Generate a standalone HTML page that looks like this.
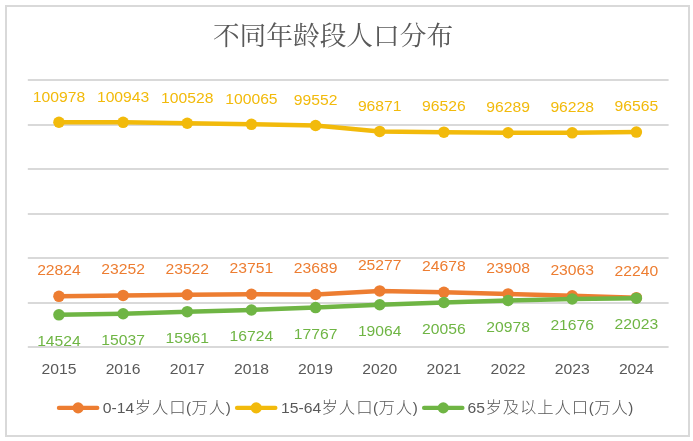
<!DOCTYPE html>
<html lang="zh-CN"><head><meta charset="utf-8"><title>不同年龄段人口分布</title>
<style>html,body{margin:0;padding:0;background:#fff;}body{width:693px;height:441px;overflow:hidden;}svg{display:block;}.n{font-family:"Liberation Sans","Noto Sans CJK SC",sans-serif;}.t{font-family:"Liberation Serif","Noto Serif CJK SC",serif;}</style></head><body>
<svg width="693" height="441" viewBox="0 0 693 441">
<rect x="0" y="0" width="693" height="441" fill="#fff"/>
<rect x="6" y="6" width="683" height="430" fill="#fff" stroke="#D9D9D9" stroke-width="2"/>
<text class="t" x="333" y="44.5" font-size="26.7" font-weight="400" fill="#595959" text-anchor="middle">不同年龄段人口分布</text>
<rect x="27.8" y="79" width="640.80" height="2" fill="#D9D9D9"/>
<rect x="27.8" y="124" width="640.80" height="2" fill="#D9D9D9"/>
<rect x="27.8" y="168" width="640.80" height="2" fill="#D9D9D9"/>
<rect x="27.8" y="213" width="640.80" height="2" fill="#D9D9D9"/>
<rect x="27.8" y="257" width="640.80" height="2" fill="#D9D9D9"/>
<rect x="27.8" y="302" width="640.80" height="2" fill="#D9D9D9"/>
<rect x="27.8" y="346" width="640.80" height="2" fill="#D9D9D9"/>
<polyline points="58.95,296.36 123.11,295.41 187.26,294.80 251.42,294.29 315.58,294.43 379.73,290.90 443.89,292.23 508.05,293.94 572.20,295.83 636.36,297.66" fill="none" stroke="#ED7D31" stroke-width="4.5" stroke-linejoin="round" stroke-linecap="round"/>
<circle cx="58.95" cy="296.36" r="5.75" fill="#ED7D31"/>
<circle cx="123.11" cy="295.41" r="5.75" fill="#ED7D31"/>
<circle cx="187.26" cy="294.80" r="5.75" fill="#ED7D31"/>
<circle cx="251.42" cy="294.29" r="5.75" fill="#ED7D31"/>
<circle cx="315.58" cy="294.43" r="5.75" fill="#ED7D31"/>
<circle cx="379.73" cy="290.90" r="5.75" fill="#ED7D31"/>
<circle cx="443.89" cy="292.23" r="5.75" fill="#ED7D31"/>
<circle cx="508.05" cy="293.94" r="5.75" fill="#ED7D31"/>
<circle cx="572.20" cy="295.83" r="5.75" fill="#ED7D31"/>
<circle cx="636.36" cy="297.66" r="5.75" fill="#ED7D31"/>
<polyline points="58.95,122.27 123.11,122.35 187.26,123.27 251.42,124.31 315.58,125.45 379.73,131.42 443.89,132.19 508.05,132.72 572.20,132.85 636.36,132.10" fill="none" stroke="#F2BA0B" stroke-width="4.5" stroke-linejoin="round" stroke-linecap="round"/>
<circle cx="58.95" cy="122.27" r="5.75" fill="#F2BA0B"/>
<circle cx="123.11" cy="122.35" r="5.75" fill="#F2BA0B"/>
<circle cx="187.26" cy="123.27" r="5.75" fill="#F2BA0B"/>
<circle cx="251.42" cy="124.31" r="5.75" fill="#F2BA0B"/>
<circle cx="315.58" cy="125.45" r="5.75" fill="#F2BA0B"/>
<circle cx="379.73" cy="131.42" r="5.75" fill="#F2BA0B"/>
<circle cx="443.89" cy="132.19" r="5.75" fill="#F2BA0B"/>
<circle cx="508.05" cy="132.72" r="5.75" fill="#F2BA0B"/>
<circle cx="572.20" cy="132.85" r="5.75" fill="#F2BA0B"/>
<circle cx="636.36" cy="132.10" r="5.75" fill="#F2BA0B"/>
<polyline points="58.95,314.85 123.11,313.71 187.26,311.65 251.42,309.95 315.58,307.62 379.73,304.73 443.89,302.53 508.05,300.47 572.20,298.92 636.36,298.14" fill="none" stroke="#6FB544" stroke-width="4.5" stroke-linejoin="round" stroke-linecap="round"/>
<circle cx="58.95" cy="314.85" r="5.75" fill="#6FB544"/>
<circle cx="123.11" cy="313.71" r="5.75" fill="#6FB544"/>
<circle cx="187.26" cy="311.65" r="5.75" fill="#6FB544"/>
<circle cx="251.42" cy="309.95" r="5.75" fill="#6FB544"/>
<circle cx="315.58" cy="307.62" r="5.75" fill="#6FB544"/>
<circle cx="379.73" cy="304.73" r="5.75" fill="#6FB544"/>
<circle cx="443.89" cy="302.53" r="5.75" fill="#6FB544"/>
<circle cx="508.05" cy="300.47" r="5.75" fill="#6FB544"/>
<circle cx="572.20" cy="298.92" r="5.75" fill="#6FB544"/>
<circle cx="636.36" cy="298.14" r="5.75" fill="#6FB544"/>
<text class="n" x="58.95" y="275.06" font-size="15.4" fill="#ED7D31" text-anchor="middle" textLength="43.65" lengthAdjust="spacingAndGlyphs">22824</text>
<text class="n" x="123.11" y="274.11" font-size="15.4" fill="#ED7D31" text-anchor="middle" textLength="43.65" lengthAdjust="spacingAndGlyphs">23252</text>
<text class="n" x="187.26" y="273.50" font-size="15.4" fill="#ED7D31" text-anchor="middle" textLength="43.65" lengthAdjust="spacingAndGlyphs">23522</text>
<text class="n" x="251.42" y="272.99" font-size="15.4" fill="#ED7D31" text-anchor="middle" textLength="43.65" lengthAdjust="spacingAndGlyphs">23751</text>
<text class="n" x="315.58" y="273.13" font-size="15.4" fill="#ED7D31" text-anchor="middle" textLength="43.65" lengthAdjust="spacingAndGlyphs">23689</text>
<text class="n" x="379.73" y="269.60" font-size="15.4" fill="#ED7D31" text-anchor="middle" textLength="43.65" lengthAdjust="spacingAndGlyphs">25277</text>
<text class="n" x="443.89" y="270.93" font-size="15.4" fill="#ED7D31" text-anchor="middle" textLength="43.65" lengthAdjust="spacingAndGlyphs">24678</text>
<text class="n" x="508.05" y="272.64" font-size="15.4" fill="#ED7D31" text-anchor="middle" textLength="43.65" lengthAdjust="spacingAndGlyphs">23908</text>
<text class="n" x="572.20" y="274.53" font-size="15.4" fill="#ED7D31" text-anchor="middle" textLength="43.65" lengthAdjust="spacingAndGlyphs">23063</text>
<text class="n" x="636.36" y="276.36" font-size="15.4" fill="#ED7D31" text-anchor="middle" textLength="43.65" lengthAdjust="spacingAndGlyphs">22240</text>
<text class="n" x="58.95" y="101.57" font-size="15.4" fill="#F2BA0B" text-anchor="middle" textLength="52.38" lengthAdjust="spacingAndGlyphs">100978</text>
<text class="n" x="123.11" y="101.65" font-size="15.4" fill="#F2BA0B" text-anchor="middle" textLength="52.38" lengthAdjust="spacingAndGlyphs">100943</text>
<text class="n" x="187.26" y="102.57" font-size="15.4" fill="#F2BA0B" text-anchor="middle" textLength="52.38" lengthAdjust="spacingAndGlyphs">100528</text>
<text class="n" x="251.42" y="103.61" font-size="15.4" fill="#F2BA0B" text-anchor="middle" textLength="52.38" lengthAdjust="spacingAndGlyphs">100065</text>
<text class="n" x="315.58" y="104.75" font-size="15.4" fill="#F2BA0B" text-anchor="middle" textLength="43.65" lengthAdjust="spacingAndGlyphs">99552</text>
<text class="n" x="379.73" y="110.72" font-size="15.4" fill="#F2BA0B" text-anchor="middle" textLength="43.65" lengthAdjust="spacingAndGlyphs">96871</text>
<text class="n" x="443.89" y="111.49" font-size="15.4" fill="#F2BA0B" text-anchor="middle" textLength="43.65" lengthAdjust="spacingAndGlyphs">96526</text>
<text class="n" x="508.05" y="112.02" font-size="15.4" fill="#F2BA0B" text-anchor="middle" textLength="43.65" lengthAdjust="spacingAndGlyphs">96289</text>
<text class="n" x="572.20" y="112.15" font-size="15.4" fill="#F2BA0B" text-anchor="middle" textLength="43.65" lengthAdjust="spacingAndGlyphs">96228</text>
<text class="n" x="636.36" y="111.40" font-size="15.4" fill="#F2BA0B" text-anchor="middle" textLength="43.65" lengthAdjust="spacingAndGlyphs">96565</text>
<text class="n" x="58.95" y="345.95" font-size="15.4" fill="#6FB544" text-anchor="middle" textLength="43.65" lengthAdjust="spacingAndGlyphs">14524</text>
<text class="n" x="123.11" y="344.81" font-size="15.4" fill="#6FB544" text-anchor="middle" textLength="43.65" lengthAdjust="spacingAndGlyphs">15037</text>
<text class="n" x="187.26" y="342.75" font-size="15.4" fill="#6FB544" text-anchor="middle" textLength="43.65" lengthAdjust="spacingAndGlyphs">15961</text>
<text class="n" x="251.42" y="341.05" font-size="15.4" fill="#6FB544" text-anchor="middle" textLength="43.65" lengthAdjust="spacingAndGlyphs">16724</text>
<text class="n" x="315.58" y="338.72" font-size="15.4" fill="#6FB544" text-anchor="middle" textLength="43.65" lengthAdjust="spacingAndGlyphs">17767</text>
<text class="n" x="379.73" y="335.83" font-size="15.4" fill="#6FB544" text-anchor="middle" textLength="43.65" lengthAdjust="spacingAndGlyphs">19064</text>
<text class="n" x="443.89" y="333.63" font-size="15.4" fill="#6FB544" text-anchor="middle" textLength="43.65" lengthAdjust="spacingAndGlyphs">20056</text>
<text class="n" x="508.05" y="331.57" font-size="15.4" fill="#6FB544" text-anchor="middle" textLength="43.65" lengthAdjust="spacingAndGlyphs">20978</text>
<text class="n" x="572.20" y="330.02" font-size="15.4" fill="#6FB544" text-anchor="middle" textLength="43.65" lengthAdjust="spacingAndGlyphs">21676</text>
<text class="n" x="636.36" y="329.24" font-size="15.4" fill="#6FB544" text-anchor="middle" textLength="43.65" lengthAdjust="spacingAndGlyphs">22023</text>
<text class="n" x="58.95" y="373.6" font-size="15.4" fill="#595959" text-anchor="middle" textLength="34.92" lengthAdjust="spacingAndGlyphs">2015</text>
<text class="n" x="123.11" y="373.6" font-size="15.4" fill="#595959" text-anchor="middle" textLength="34.92" lengthAdjust="spacingAndGlyphs">2016</text>
<text class="n" x="187.26" y="373.6" font-size="15.4" fill="#595959" text-anchor="middle" textLength="34.92" lengthAdjust="spacingAndGlyphs">2017</text>
<text class="n" x="251.42" y="373.6" font-size="15.4" fill="#595959" text-anchor="middle" textLength="34.92" lengthAdjust="spacingAndGlyphs">2018</text>
<text class="n" x="315.58" y="373.6" font-size="15.4" fill="#595959" text-anchor="middle" textLength="34.92" lengthAdjust="spacingAndGlyphs">2019</text>
<text class="n" x="379.73" y="373.6" font-size="15.4" fill="#595959" text-anchor="middle" textLength="34.92" lengthAdjust="spacingAndGlyphs">2020</text>
<text class="n" x="443.89" y="373.6" font-size="15.4" fill="#595959" text-anchor="middle" textLength="34.92" lengthAdjust="spacingAndGlyphs">2021</text>
<text class="n" x="508.05" y="373.6" font-size="15.4" fill="#595959" text-anchor="middle" textLength="34.92" lengthAdjust="spacingAndGlyphs">2022</text>
<text class="n" x="572.20" y="373.6" font-size="15.4" fill="#595959" text-anchor="middle" textLength="34.92" lengthAdjust="spacingAndGlyphs">2023</text>
<text class="n" x="636.36" y="373.6" font-size="15.4" fill="#595959" text-anchor="middle" textLength="34.92" lengthAdjust="spacingAndGlyphs">2024</text>
<line x1="58.90" x2="97.30" y1="407.9" y2="407.9" stroke="#ED7D31" stroke-width="4.2" stroke-linecap="round"/>
<circle cx="78.1" cy="407.9" r="5.6" fill="#ED7D31"/>
<text class="n" x="102.8" y="413.30" fill="#595959" font-weight="300"><tspan font-size="15.1" textLength="31.42" lengthAdjust="spacingAndGlyphs">0-14</tspan><tspan font-size="16.4" letter-spacing="0.90" dx="0.45">岁人口</tspan><tspan dx="-0.45" font-size="15.1">(</tspan><tspan font-size="16.4" letter-spacing="0.90" dx="0.45">万人</tspan><tspan dx="-0.45" font-size="15.1">)</tspan></text>
<line x1="237.00" x2="275.40" y1="407.9" y2="407.9" stroke="#F2BA0B" stroke-width="4.2" stroke-linecap="round"/>
<circle cx="256.2" cy="407.9" r="5.6" fill="#F2BA0B"/>
<text class="n" x="281" y="413.30" fill="#595959" font-weight="300"><tspan font-size="15.1" textLength="40.14" lengthAdjust="spacingAndGlyphs">15-64</tspan><tspan font-size="16.4" letter-spacing="0.90" dx="0.45">岁人口</tspan><tspan dx="-0.45" font-size="15.1">(</tspan><tspan font-size="16.4" letter-spacing="0.90" dx="0.45">万人</tspan><tspan dx="-0.45" font-size="15.1">)</tspan></text>
<line x1="424.05" x2="462.45" y1="407.9" y2="407.9" stroke="#6FB544" stroke-width="4.2" stroke-linecap="round"/>
<circle cx="443.25" cy="407.9" r="5.6" fill="#6FB544"/>
<text class="n" x="467.5" y="413.30" fill="#595959" font-weight="300"><tspan font-size="15.1" textLength="17.44" lengthAdjust="spacingAndGlyphs">65</tspan><tspan font-size="16.4" letter-spacing="0.90" dx="0.45">岁及以上人口</tspan><tspan dx="-0.45" font-size="15.1">(</tspan><tspan font-size="16.4" letter-spacing="0.90" dx="0.45">万人</tspan><tspan dx="-0.45" font-size="15.1">)</tspan></text>
</svg></body></html>
